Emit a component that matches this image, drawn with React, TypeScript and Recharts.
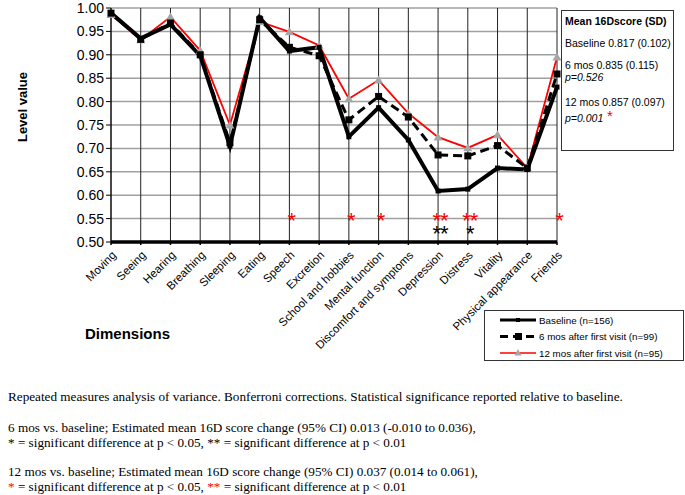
import React from "react";
import { ComposedChart, Line, XAxis, YAxis, CartesianGrid } from "recharts";

const dimensions = [
  "Moving", "Seeing", "Hearing", "Breathing", "Sleeping", "Eating", "Speech", "Excretion",
  "School and hobbies", "Mental function", "Discomfort and symptoms", "Depression", "Distress",
  "Vitality", "Physical appearance", "Friends",
];
const baseline = [0.989, 0.935, 0.965, 0.898, 0.705, 0.979, 0.908, 0.916, 0.725, 0.787, 0.718, 0.609, 0.613, 0.658, 0.655, 0.831];
const mos6 = [0.989, 0.933, 0.968, 0.9, 0.712, 0.975, 0.916, 0.898, 0.761, 0.811, 0.767, 0.686, 0.684, 0.706, 0.658, 0.859];
const mos12 = [0.986, 0.932, 0.981, 0.909, 0.75, 0.971, 0.949, 0.92, 0.806, 0.846, 0.775, 0.724, 0.701, 0.729, 0.658, 0.895];
const sig6 = ["", "", "", "", "", "", "", "", "", "", "", "**", "*", "", "", ""];
const sig12 = ["", "", "", "", "", "", "*", "", "*", "*", "", "**", "**", "", "", "*"];
const yTicks = [0.5, 0.55, 0.6, 0.65, 0.7, 0.75, 0.8, 0.85, 0.9, 0.95, 1.0];

const data = dimensions.map((name, i) => ({
  name,
  baseline: baseline[i],
  mos6: mos6[i],
  mos12: mos12[i],
  sig6: sig6[i],
  sig12: sig12[i],
}));

const ARIAL = "Arial, 'Liberation Sans', sans-serif";

const XTick = (props: any) => {
  const { x, y, payload } = props;
  return (
    <text
      x={x + 3}
      y={y + 6}
      transform={`rotate(-45 ${x + 3} ${y + 6})`}
      textAnchor="end"
      fontSize={11.5}
      fontFamily={ARIAL}
      fill="#000"
      dominantBaseline="central"
    >
      {payload.value}
    </text>
  );
};

const SquareDot = (size: number) => (props: any) => {
  const { cx, cy, index } = props;
  if (cx == null || cy == null) return null;
  return <rect key={index} x={cx - size / 2} y={cy - size / 2} width={size} height={size} fill="#000" />;
};

const TriDot = (props: any) => {
  const { cx, cy, index } = props;
  if (cx == null || cy == null) return null;
  const s = 4.5;
  return (
    <polygon
      key={index}
      points={`${cx},${cy - s} ${cx - s},${cy + s * 0.75} ${cx + s},${cy + s * 0.75}`}
      fill="#a6a6a6"
    />
  );
};

const StarDot = (field: string, color: string, shift: number) => (props: any) => {
  const { cx, cy, payload, index } = props;
  if (cx == null || cy == null || !payload[field]) return null;
  return (
    <text
      key={index}
      x={cx + 2}
      y={cy + shift}
      textAnchor="middle"
      fontSize={22}
      fontFamily={ARIAL}
      fill={color}
      letterSpacing={-1}
    >
      {payload[field]}
    </text>
  );
};

export default function App() {
  return (
    <div style={{ position: "absolute", left: 0, top: 0, width: 685, height: 495, background: "#fff", fontFamily: ARIAL, overflow: "hidden" }}>
      <ComposedChart
        width={685}
        height={495}
        data={data}
        margin={{ top: 8, right: 128, left: 51, bottom: 223 }}
      >
        <CartesianGrid horizontal={true} vertical={false} stroke="#a0a0a0" strokeWidth={1.5} />
        <CartesianGrid horizontal={false} vertical={true} stroke="#222" strokeWidth={1} />
        <XAxis
          dataKey="name"
          interval={0}
          height={30}
          tick={<XTick />}
          tickSize={3}
          tickLine={{ stroke: "#000", strokeWidth: 1.5 }}
          axisLine={{ stroke: "#000", strokeWidth: 3.5 }}
        />
        <YAxis
          domain={[0.5, 1]}
          ticks={yTicks}
          width={60}
          interval={0}
          tickFormatter={(v: number) => v.toFixed(2)}
          tick={{ fontSize: 14, fill: "#000", fontFamily: ARIAL }}
          tickSize={5}
          tickMargin={2}
          tickLine={{ stroke: "#000" }}
          axisLine={{ stroke: "#000" }}
        />
        <Line
          dataKey="mos12"
          stroke="#ff0000"
          strokeWidth={1.8}
          dot={TriDot}
          activeDot={false}
          isAnimationActive={false}
        />
        <Line
          dataKey="baseline"
          stroke="#000"
          strokeWidth={4}
          dot={SquareDot(5)}
          activeDot={false}
          isAnimationActive={false}
        />
        <Line
          dataKey="mos6"
          stroke="#000"
          strokeWidth={3}
          strokeDasharray="9 5"
          dot={SquareDot(7)}
          activeDot={false}
          isAnimationActive={false}
        />
        <Line
          dataKey={(d: any) => (d.sig12 ? 0.55 : null)}
          stroke="none"
          dot={StarDot("sig12", "#ff0000", 9)}
          activeDot={false}
          isAnimationActive={false}
        />
        <Line
          dataKey={(d: any) => (d.sig6 ? 0.528 : null)}
          stroke="none"
          dot={StarDot("sig6", "#000", 12)}
          activeDot={false}
          isAnimationActive={false}
        />
      </ComposedChart>

      <div
        style={{
          position: "absolute",
          left: 22,
          top: 107,
          transform: "translate(-50%, -50%) rotate(-90deg)",
          fontWeight: "bold",
          fontSize: 13,
          whiteSpace: "nowrap",
        }}
      >
        Level value
      </div>
      <div style={{ position: "absolute", left: 85, top: 325, fontWeight: "bold", fontSize: 15 }}>Dimensions</div>

      <div
        style={{
          position: "absolute",
          left: 561,
          top: 10,
          width: 113,
          height: 141,
          border: "1px solid #333",
          boxSizing: "border-box",
          fontSize: 10.5,
          lineHeight: "12px",
          padding: "4px 0 0 3px",
          background: "#fff",
          whiteSpace: "nowrap",
        }}
      >
        <div style={{ fontWeight: "bold" }}>Mean 16Dscore (SD)</div>
        <div style={{ marginTop: 10 }}>Baseline 0.817 (0.102)</div>
        <div style={{ marginTop: 10 }}>6 mos 0.835 (0.115)</div>
        <div style={{ fontStyle: "italic" }}>p=0.526</div>
        <div style={{ marginTop: 13 }}>12 mos 0.857 (0.097)</div>
        <div style={{ marginTop: 4, fontStyle: "italic", position: "relative" }}>
          p=0.001
          <span style={{ color: "#ff0000", fontStyle: "normal", fontSize: 15, position: "absolute", left: 42, top: -2, lineHeight: "12px" }}>*</span>
        </div>
      </div>

      <div
        style={{
          position: "absolute",
          left: 484,
          top: 310,
          width: 200,
          height: 51,
          border: "1px solid #333",
          boxSizing: "border-box",
          background: "#fff",
        }}
      >
        <svg width={200} height={51} style={{ position: "absolute", left: 0, top: 0 }}>
          <line x1={15} x2={51} y1={9} y2={9} stroke="#000" strokeWidth={3} />
          <rect x={31} y={7} width={4} height={4} fill="#000" />
          <line x1={15} x2={51} y1={25.5} y2={25.5} stroke="#000" strokeWidth={3} strokeDasharray="8 5" />
          <rect x={30} y={22} width={7} height={7} fill="#000" />
          <line x1={15} x2={51} y1={42} y2={42} stroke="#ff0000" strokeWidth={1.5} />
          <polygon points="33,38 29.5,44.5 36.5,44.5" fill="#a6a6a6" />
          <text x={54} y={12.5} fontSize={9.8} fontFamily={ARIAL}>Baseline (n=156)</text>
          <text x={54} y={29} fontSize={9.8} fontFamily={ARIAL}>6 mos after  first visit (n=99)</text>
          <text x={54} y={45.5} fontSize={9.8} fontFamily={ARIAL}>12 mos after first visit (n=95)</text>
        </svg>
      </div>

      <div
        style={{
          position: "absolute",
          left: 8,
          top: 389,
          fontFamily: "'Liberation Serif', 'Times New Roman', serif",
          fontSize: 13.2,
          lineHeight: "15px",
          whiteSpace: "nowrap",
        }}
      >
        <div>Repeated measures analysis of variance. Bonferroni corrections. Statistical significance reported relative to baseline.</div>
        <div style={{ marginTop: 16 }}>6 mos vs. baseline; Estimated mean 16D score change (95% CI) 0.013 (-0.010 to 0.036),</div>
        <div>* = significant difference at p &lt; 0.05, ** = significant difference at p &lt; 0.01</div>
        <div style={{ marginTop: 14 }}>12 mos vs. baseline; Estimated mean 16D score change (95% CI) 0.037 (0.014 to 0.061),</div>
        <div>
          <span style={{ color: "#ff0000" }}>*</span> = significant difference at p &lt; 0.05,{" "}
          <span style={{ color: "#ff0000" }}>**</span> = significant difference at p &lt; 0.01
        </div>
      </div>
    </div>
  );
}
